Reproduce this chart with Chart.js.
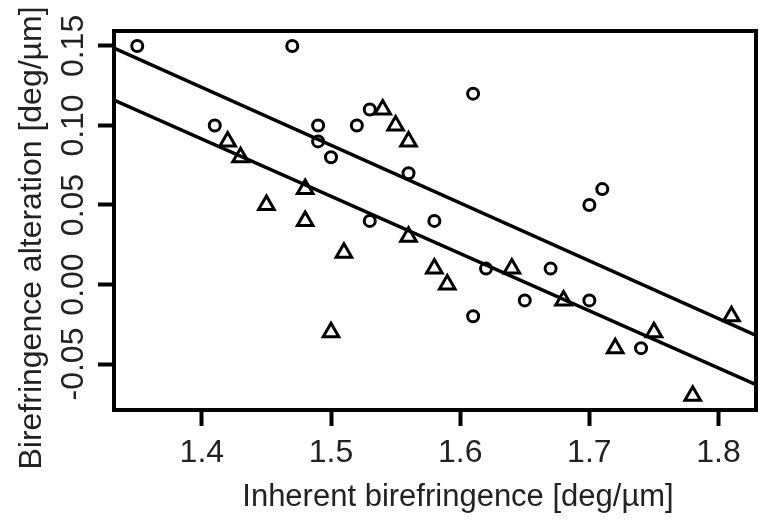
<!DOCTYPE html>
<html>
<head>
<meta charset="utf-8">
<script src="https://cdn.jsdelivr.net/npm/chart.js@4.4.0/dist/chart.umd.min.js"></script>
<style>
  html, body { margin: 0; padding: 0; background: #fff; }
</style>
</head>
<body>
<canvas id="chart" width="768" height="522"></canvas>
<script>
// circle group
var circleX = [1.35, 1.47, 1.61, 1.41, 1.53, 1.49, 1.52, 1.49, 1.50, 1.56, 1.53, 1.58, 1.71, 1.70, 1.67, 1.65, 1.70, 1.74, 1.61, 1.62];
var circleY = [0.15, 0.15, 0.12, 0.10, 0.11, 0.10, 0.10, 0.09, 0.08, 0.07, 0.04, 0.04, 0.06, 0.05, 0.01, -0.01, -0.01, -0.04, -0.02, 0.01];
// triangle group
var triX = [1.42, 1.43, 1.45, 1.48, 1.48, 1.51, 1.50, 1.54, 1.55, 1.56, 1.56, 1.58, 1.59, 1.64, 1.68, 1.72, 1.75, 1.78, 1.81];
var triY = [0.09, 0.08, 0.05, 0.06, 0.04, 0.02, -0.03, 0.11, 0.10, 0.09, 0.03, 0.01, 0.00, 0.01, -0.01, -0.04, -0.03, -0.07, -0.02];
// regression lines (end points read at the frame edges)
var fitCircX = [1.332, 1.829];
var fitCircY = [0.1486, -0.032];
var fitTriX = [1.332, 1.829];
var fitTriY = [0.116, -0.063];

var xTicks = [1.4, 1.5, 1.6, 1.7, 1.8];
var yTicks = [-0.05, 0.00, 0.05, 0.10, 0.15];
var xTitle = 'Inherent birefringence [deg/\u00b5m]';
var yTitle = 'Birefringence alteration [deg/\u00b5m]';

var FONT = '"Liberation Sans", Arial, sans-serif';

function pts(xs, ys) {
  var out = [];
  for (var i = 0; i < xs.length; i++) out.push({x: xs[i], y: ys[i]});
  return out;
}

// frame round the plot area + axis titles
var framePlugin = {
  id: 'frame',
  afterDatasetsDraw: function(chart) {
    var a = chart.chartArea, ctx = chart.ctx;
    ctx.save();
    ctx.strokeStyle = '#000';
    ctx.lineWidth = 4;
    ctx.strokeRect(a.left, a.top, a.right - a.left, a.bottom - a.top);
    ctx.restore();
  },
  afterDraw: function(chart) {
    var ctx = chart.ctx;
    ctx.save();
    ctx.fillStyle = '#222';
    ctx.textAlign = 'center';
    ctx.textBaseline = 'alphabetic';
    ctx.font = '31px ' + FONT;
    ctx.fillText(xTitle, 458, 506);
    ctx.translate(41, 238);
    ctx.rotate(-Math.PI / 2);
    ctx.font = '32px ' + FONT;
    ctx.fillText(yTitle, 0, 0);
    ctx.restore();
  }
};

var ctx = document.getElementById('chart');
var myChart = new Chart(ctx, {
  type: 'scatter',
  data: {
    datasets: [
      {
        type: 'line', data: pts(fitCircX, fitCircY),
        borderColor: '#000', borderWidth: 3.5, pointRadius: 0, fill: false, tension: 0
      },
      {
        type: 'line', data: pts(fitTriX, fitTriY),
        borderColor: '#000', borderWidth: 3.5, pointRadius: 0, fill: false, tension: 0
      },
      {
        data: pts(circleX, circleY),
        pointStyle: 'circle', pointRadius: 5.5, pointBorderWidth: 3,
        borderColor: '#000', backgroundColor: 'rgba(0,0,0,0)'
      },
      {
        data: pts(triX, triY),
        pointStyle: 'triangle', pointRadius: 9, pointBorderWidth: 3,
        borderColor: '#000', backgroundColor: 'rgba(0,0,0,0)'
      }
    ]
  },
  options: {
    responsive: false,
    animation: false,
    layout: { padding: { left: 0, top: 31, right: 10, bottom: 0 } },
    plugins: { legend: { display: false }, tooltip: { enabled: false } },
    scales: {
      x: {
        type: 'linear', min: 1.332, max: 1.829,
        afterBuildTicks: function(s) { s.ticks = xTicks.map(function(v) { return {value: v}; }); },
        afterFit: function(s) { s.height = 112; },
        grid: { drawOnChartArea: false, drawTicks: true, tickLength: 16, tickWidth: 4, tickColor: '#000' },
        border: { display: false },
        ticks: {
          font: { family: FONT, size: 32 }, color: '#222', padding: 8,
          minRotation: 0, maxRotation: 0, autoSkip: false,
          callback: function(v) { return v.toFixed(1); }
        }
      },
      y: {
        type: 'linear', min: -0.0789, max: 0.1594,
        afterBuildTicks: function(s) { s.ticks = yTicks.map(function(v) { return {value: v}; }); },
        afterFit: function(s) { s.width = 114; },
        grid: { drawOnChartArea: false, drawTicks: true, tickLength: 16, tickWidth: 4, tickColor: '#000' },
        border: { display: false },
        ticks: {
          font: { family: FONT, size: 32 }, color: '#222', padding: -13,
          minRotation: 90, maxRotation: 90, crossAlign: 'center', autoSkip: false,
          callback: function(v) { return v.toFixed(2); }
        }
      }
    }
  },
  plugins: [framePlugin]
});
</script>
</body>
</html>
